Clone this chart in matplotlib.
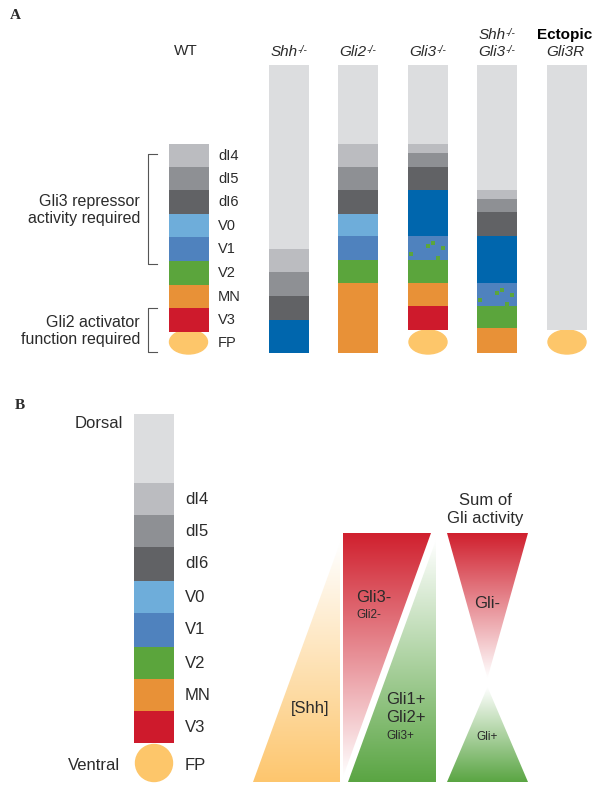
import numpy as np
import matplotlib.pyplot as plt
from matplotlib.patches import Ellipse, Polygon
from matplotlib.colors import to_rgb

plt.rcParams['font.family'] = ['Liberation Sans', 'DejaVu Sans']

txt = '#2b2b2b'
colours = {'roof': '#dcdddf', 'dI4': '#bbbcc0', 'dI5': '#8e9094', 'dI6': '#616265',
           'V0': '#6eadda', 'V1': '#4f82be', 'V1x': '#0066ad', 'V1g': '#4f82be',
           'V2': '#5ba53c', 'MN': '#e89137', 'V3': '#ce1a2c'}
fp_col = '#fdc66a'

# panel A: one column per genotype, domains from dorsal (top) to ventral
col_heads = [('WT', ''), ('Shh', '-/-'), ('Gli2', '-/-'), ('Gli3', '-/-'),
             ('Shh|Gli3', '-/-'), ('Ectopic|Gli3R', '')]
col_segs = [
    ['dI4', 'dI5', 'dI6', 'V0', 'V1', 'V2', 'MN', 'V3'],
    ['roof', 'dI4', 'dI5', 'dI6', 'V1x'],
    ['roof', 'dI4', 'dI5', 'dI6', 'V0', 'V1', 'V2', 'MN'],
    ['roof', 'dI4', 'dI5', 'dI6', 'V1x', 'V1g', 'V2', 'MN', 'V3'],
    ['roof', 'dI4', 'dI5', 'dI6', 'V1x', 'V1g', 'V2', 'MN'],
    ['roof'],
]
col_edges = [
    [144, 167, 190, 214, 237, 261, 285, 308, 332],
    [65, 249, 272, 296, 320, 353],
    [65, 144, 167, 190, 214, 236, 260, 283, 353],
    [65, 144, 153, 167, 190, 236, 260, 283, 306, 330],
    [65, 190, 199, 212, 236, 283, 306, 328, 353],
    [65, 330],
]
col_fp = [True, False, False, True, False, True]
wt_labels = ['dI4', 'dI5', 'dI6', 'V0', 'V1', 'V2', 'MN', 'V3', 'FP']
# green speckles inside the mixed V1 domain (fraction of width / height)
dots_fx = [0.5, 0.62, 0.87, 0.08, 0.75]
dots_fy = [0.42, 0.3, 0.5, 0.75, 0.92]

# panel B: wild type column
b_segs = ['roof', 'dI4', 'dI5', 'dI6', 'V0', 'V1', 'V2', 'MN', 'V3']
b_edges = [414, 483, 515, 547, 581, 613, 647, 679, 711, 743]

fig = plt.figure(figsize=(6, 7.97), dpi=100)
ax = fig.add_axes([0, 0, 1, 1])
ax.axis('off')

col_x = [188.5, 289, 358, 428, 497, 567]
w = 40


def column(x, segs, edges):
    e = np.array(edges)
    ax.bar(x, e[1:] - e[:-1], bottom=e[:-1], width=w,
           color=[colours[s] for s in segs], zorder=2)
    for s, t, b in zip(segs, e[:-1], e[1:]):
        if s == 'V1g':
            ax.scatter(x - w / 2 + np.array(dots_fx) * w,
                       t + np.array(dots_fy) * (b - t),
                       s=10, marker='s', color='#5ba53c', zorder=3, lw=0)


for x, segs, edges, fp, head in zip(col_x, col_segs, col_edges, col_fp, col_heads):
    column(x, segs, edges)
    if fp:
        ax.add_patch(Ellipse((x, 342), 38, 24, color=fp_col, zorder=1))
    name, sup = head
    lines = name.split('|')
    if name == 'WT':
        ax.text(x - 3, 51, name, ha='center', va='center', fontsize=11, color=txt)
        continue
    for i, ln in enumerate(lines[::-1]):
        y = 52 - 17 * i
        if ln == 'Ectopic':
            ax.text(x - 2, y, ln, ha='center', va='center', fontsize=11,
                    color='black', fontweight='bold')
            continue
        t = ax.text(x - 5 if sup else x - 2, y, ln, ha='center', va='center',
                    fontsize=11, style='italic', color=txt)
        if sup:
            ax.annotate(sup, xy=(1, 0.98), xycoords=t, ha='left', va='top',
                        fontsize=7.5, style='italic', color=txt)

# WT labels
wt_e = np.array(col_edges[0])
for lab, y in zip(wt_labels, list((wt_e[:-1] + wt_e[1:]) / 2) + [343]):
    ax.text(218, y, lab, ha='left', va='center', fontsize=10.5, color=txt)

# brackets
for top, bot, l1, l2 in [(154, 264, 'Gli3 repressor', 'activity required'),
                         (308, 352, 'Gli2 activator', 'function required')]:
    ax.plot([157, 148, 148, 157], [top, top, bot, bot], color='#555555', lw=0.8)
    mid = (top + bot) / 2
    ax.text(140, mid - 8, l1, ha='right', va='center', fontsize=11.5, color=txt)
    ax.text(140, mid + 9, l2, ha='right', va='center', fontsize=11.5, color=txt)

# panel B column
column(154, b_segs, b_edges)
ax.add_patch(Ellipse((154, 763), 37, 37, color=fp_col, zorder=1))
be = np.array(b_edges)
for lab, y in zip(wt_labels, list((be[1:-1] + be[2:]) / 2) + [765]):
    ax.text(185, y, lab, ha='left', va='center', fontsize=12, color=txt)
ax.text(123, 423, 'Dorsal', ha='right', va='center', fontsize=12, color=txt)
ax.text(120, 765, 'Ventral', ha='right', va='center', fontsize=12, color=txt)


def grad_fill(verts, colour, y_full, y_white):
    v = np.array(verts, dtype=float)
    ytop, ybot = v[:, 1].min(), v[:, 1].max()
    ys = np.linspace(ytop, ybot, 256)
    t = np.clip((ys - y_white) / (y_full - y_white), 0, 1)[:, None, None]
    img = (1 - t) * np.ones(3) + t * np.array(to_rgb(colour))
    poly = Polygon(v, closed=True, fc='none', ec='none', transform=ax.transData)
    im = ax.imshow(img, extent=(v[:, 0].min(), v[:, 0].max(), ybot, ytop),
                   aspect='auto', interpolation='bilinear', zorder=1)
    im.set_clip_path(poly)


grad_fill([(253, 782), (340, 782), (340, 543)], '#fdc66e', 782, 543)
grad_fill([(343, 533), (431, 533), (343, 777)], '#d0202e', 533, 777)
grad_fill([(348, 782), (436, 782), (436, 540)], '#5aa543', 782, 540)
grad_fill([(447, 533), (528, 533), (487.5, 678)], '#d0202e', 533, 678)
grad_fill([(447, 782), (528, 782), (487.5, 687)], '#5aa543', 782, 687)

ax.text(485, 500, 'Sum of', ha='center', va='center', fontsize=12, color=txt)
ax.text(485, 518, 'Gli activity', ha='center', va='center', fontsize=12, color=txt)
ax.text(356, 597, 'Gli3-', ha='left', va='center', fontsize=12, color=txt)
ax.text(356, 615, 'Gli2-', ha='left', va='center', fontsize=8.5, color=txt)
ax.text(487, 603, 'Gli-', ha='center', va='center', fontsize=12, color=txt)
ax.text(310, 708, '[Shh]', ha='center', va='center', fontsize=12, color=txt)
ax.text(386, 700, 'Gli1+', ha='left', va='center', fontsize=12, color=txt)
ax.text(386, 717, 'Gli2+', ha='left', va='center', fontsize=12, color=txt)
ax.text(386, 736, 'Gli3+', ha='left', va='center', fontsize=8.5, color=txt)
ax.text(487, 737, 'Gli+', ha='center', va='center', fontsize=8.5, color=txt)

ax.text(15, 15, 'A', ha='center', va='center', fontsize=11, fontweight='bold',
        family='Liberation Serif', color=txt)
ax.text(20, 405, 'B', ha='center', va='center', fontsize=11, fontweight='bold',
        family='Liberation Serif', color=txt)

ax.set_xlim(0, 600)
ax.set_ylim(797, 0)
fig.savefig('out.png', dpi=100)
